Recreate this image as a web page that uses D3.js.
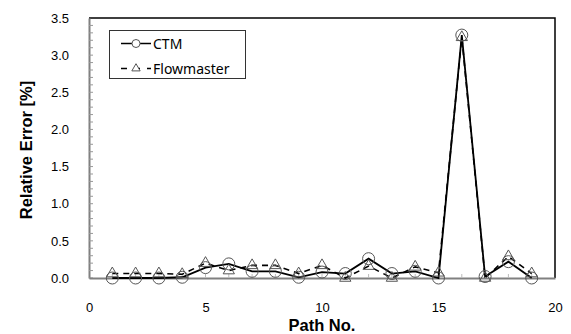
<!DOCTYPE html>
<html><head><meta charset="utf-8">
<script src="https://cdn.jsdelivr.net/npm/d3@7"></script>
<style>body{margin:0;background:#fff}svg{display:block}</style>
</head><body><svg id="c" width="571" height="334"></svg>
<script>
const paths = [1,2,3,4,5,6,7,8,9,10,11,12,13,14,15,16,17,18,19];
const ctm = [0.0,0.0,0.0,0.01,0.14,0.19,0.09,0.09,0.01,0.08,0.06,0.26,0.06,0.09,0.0,3.27,0.02,0.22,0.0];
const flowmaster = [0.06,0.06,0.06,0.05,0.2,0.1,0.17,0.17,0.06,0.17,0.0,0.16,0.0,0.15,0.07,3.24,0.0,0.29,0.06];
const xTicks = [0,5,10,15,20];
const yTicks = [0,0.5,1.0,1.5,2.0,2.5,3.0,3.5];

const svg = d3.select("#c");
const m = {l:89, r:555, t:18, b:278};
const x = d3.scaleLinear().domain([0,20]).range([m.l,m.r]);
const y = d3.scaleLinear().domain([0,3.5]).range([m.b,m.t]);

svg.append("path").attr("d",`M${m.l},${m.t}H${m.r}V${m.b}`).attr("fill","none").attr("stroke","#000").attr("stroke-width",1.5);

const ya = svg.append("g").attr("transform",`translate(${m.l},0)`)
  .call(d3.axisLeft(y).tickValues(yTicks).tickFormat(d3.format(".1f")).tickSize(0).tickPadding(20));
ya.select(".domain").attr("stroke","#808080").attr("stroke-width",2);
ya.selectAll("text").attr("font-family","Liberation Sans, Arial").attr("font-size",13).attr("fill","#000");
const yMinor = d3.range(0,35).map(i=>i/10);
svg.append("g").selectAll("line").data(yMinor).join("line")
  .attr("x1",m.l).attr("x2",m.l+4).attr("y1",d=>y(d)).attr("y2",d=>y(d)).attr("stroke","#999").attr("stroke-width",1);

const xa = svg.append("g").attr("transform",`translate(0,${m.b})`)
  .call(d3.axisBottom(x).tickValues(xTicks).tickFormat(d3.format("d")).tickSize(0).tickPadding(25));
xa.select(".domain").attr("stroke","#808080").attr("stroke-width",2);
xa.selectAll("text").attr("font-family","Liberation Sans, Arial").attr("font-size",13).attr("fill","#000");
svg.append("g").selectAll("line").data(d3.range(1,20)).join("line")
  .attr("x1",d=>x(d)).attr("x2",d=>x(d)).attr("y1",m.b).attr("y2",m.b-4).attr("stroke","#bbb").attr("stroke-width",1);

svg.append("text").attr("x",322).attr("y",331).attr("text-anchor","middle")
  .attr("font-family","Liberation Sans, Arial").attr("font-weight","bold").attr("font-size",16.5).text("Path No.");
svg.append("text").attr("transform","translate(32,150) rotate(-90)").attr("text-anchor","middle")
  .attr("font-family","Liberation Sans, Arial").attr("font-weight","bold").attr("font-size",16.5).text("Relative Error [%]");

const line = d3.line().x((d,i)=>x(paths[i])).y(d=>y(d));
svg.append("path").datum(flowmaster).attr("d",line).attr("fill","none").attr("stroke","#000").attr("stroke-width",1.6).attr("stroke-dasharray","6,5");
svg.append("path").datum(ctm).attr("d",line).attr("fill","none").attr("stroke","#000").attr("stroke-width",1.8);

const tri = d3.symbol().type(d3.symbolTriangle).size(55);
svg.append("g").selectAll("path").data(flowmaster).join("path")
  .attr("d",tri).attr("transform",(d,i)=>`translate(${x(paths[i])},${y(d)})`)
  .attr("fill","none").attr("stroke","#555").attr("stroke-width",1);
svg.append("g").selectAll("circle").data(ctm).join("circle")
  .attr("cx",(d,i)=>x(paths[i])).attr("cy",d=>y(d)).attr("r",6)
  .attr("fill","none").attr("stroke","#555").attr("stroke-width",1);

const lg = svg.append("g");
lg.append("rect").attr("x",109.5).attr("y",30.5).attr("width",136).attr("height",48).attr("fill","#fff").attr("stroke","#333").attr("stroke-width",1);
const items = [{name:"CTM",dash:null,sym:"c",yy:43.5},{name:"Flowmaster",dash:"6,7",sym:"t",yy:68.5}];
items.forEach(it=>{
  lg.append("line").attr("x1",121).attr("x2",151).attr("y1",it.yy).attr("y2",it.yy).attr("stroke","#000").attr("stroke-width",1.5).attr("stroke-dasharray",it.dash);
  if(it.sym==="c") lg.append("circle").attr("cx",136).attr("cy",it.yy).attr("r",4).attr("fill","#fff").attr("stroke","#555");
  else lg.append("path").attr("d",d3.symbol().type(d3.symbolTriangle).size(30)).attr("transform",`translate(136,${it.yy})`).attr("fill","#fff").attr("stroke","#555");
  lg.append("text").attr("x",153).attr("y",it.yy+5).attr("font-family","Noto Sans, Open Sans").attr("font-size",14).text(it.name);
});
</script></body></html>
